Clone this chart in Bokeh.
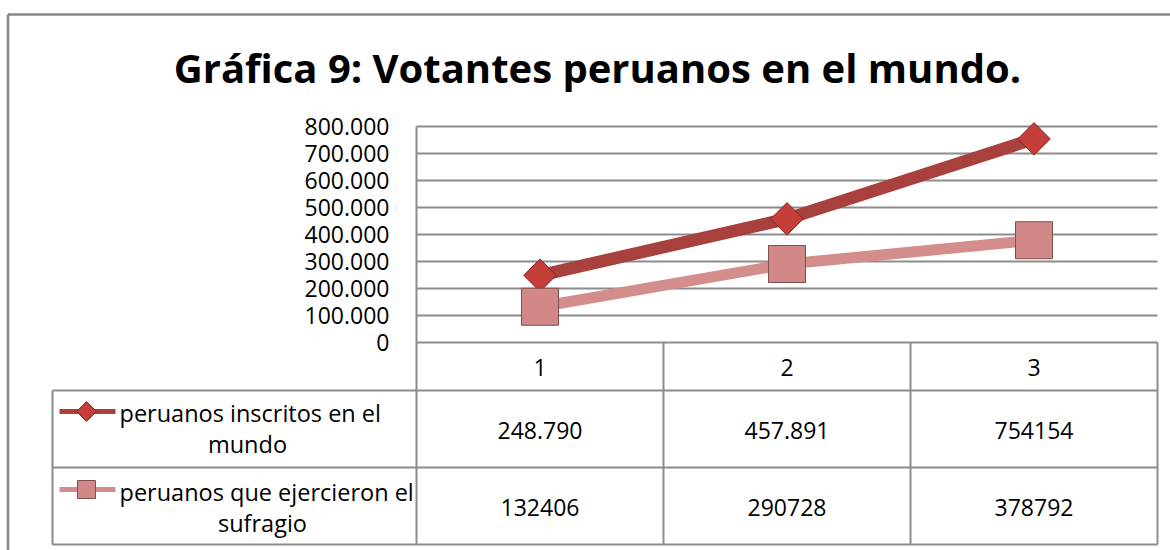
import numpy as np
from bokeh.plotting import figure
from bokeh.models import Range1d
from bokeh.core.properties import value
from bokeh.embed import file_html
from bokeh.resources import INLINE

# ---------------- data ----------------
title_text = "Gráfica 9: Votantes peruanos en el mundo."
categories = ["1", "2", "3"]
cat_pos = [1, 2, 3]
series_names = ["peruanos inscritos en el mundo", "peruanos que ejercieron el sufragio"]
inscritos = [248790, 457891, 754154]
ejercieron = [132406, 290728, 378792]
inscritos_labels = ["248.790", "457.891", "754154"]
ejercieron_labels = ["132406", "290728", "378792"]
y_ticks = [0, 100000, 200000, 300000, 400000, 500000, 600000, 700000, 800000]
y_tick_labels = ["0", "100.000", "200.000", "300.000", "400.000", "500.000",
                 "600.000", "700.000", "800.000"]

# ---------------- layout (page pixels) ----------------
W, H = 1170, 550
PAGE_L, PAGE_T = 0, 0
PL, PR, PT, PB = 416, 1157, 126, 342      # plot area
YMAX = 800000
ROW1, ROW2, ROW3 = 390, 467, 544          # table row lines
LEG_L = 52
col_w = (PR - PL) / len(categories)

FONT = value("Open Sans")
GRID = "#8c8c8c"
C1_LINE, C1_FILL, C1_EDGE = "#a8403d", "#c53e3a", "#7e2523"
C2_LINE, C2_FILL, C2_EDGE = "#d38e8c", "#d18886", "#7d4f4e"

p = figure(width=W, height=H,
           x_range=Range1d(PAGE_L, PAGE_L + W),
           y_range=Range1d(PAGE_T + H, PAGE_T),
           x_axis_type=None, y_axis_type=None,
           output_backend="svg", toolbar_location=None,
           min_border=0, outline_line_color=None,
           background_fill_color="white", border_fill_color="white")

# category / value scales
p.extra_x_ranges = {"cat": Range1d((PAGE_L - PL) / col_w + 0.5,
                                   (PAGE_L + W - PL) / col_w + 0.5)}
p.extra_y_ranges = {"val": Range1d((PB - (PAGE_T + H)) / (PB - PT) * YMAX,
                                   (PB - PAGE_T) / (PB - PT) * YMAX)}

# outer chart border
p.segment(x0=[7.5, 7.5], y0=[14, 14], x1=[1170, 7.5], y1=[14, 550],
          line_color="#878787", line_width=2.5)

# title
p.text(x=[597], y=[67], text=[title_text], text_font=FONT,
       text_font_style="bold", text_font_size="40px",
       text_align="center", text_baseline="middle", text_color="black")

# gridlines (value scale)
p.segment(x0=[PL] * len(y_ticks), x1=[PR] * len(y_ticks), y0=y_ticks, y1=y_ticks,
          y_range_name="val", line_color=GRID, line_width=2)
# y tick labels
p.text(x=[389] * len(y_ticks), y=y_ticks, text=y_tick_labels, y_range_name="val",
       text_font=FONT, text_font_size="23px", text_align="right",
       text_baseline="middle", text_color="black")

# table lines
p.segment(x0=[LEG_L, LEG_L, LEG_L], x1=[PR, PR, PR], y0=[ROW1, ROW2, ROW3],
          y1=[ROW1, ROW2, ROW3], line_color=GRID, line_width=2)
vx = [PL + col_w * i for i in range(1, len(categories) + 1)]
p.segment(x0=[PL] + vx + [LEG_L], x1=[PL] + vx + [LEG_L],
          y0=[PT] + [PB] * len(vx) + [ROW1], y1=[ROW3] * (len(vx) + 2),
          line_color=GRID, line_width=2)

# series lines + markers
p.line(x=cat_pos, y=inscritos, x_range_name="cat", y_range_name="val",
       line_color=C1_LINE, line_width=12.5)
p.scatter(x=cat_pos, y=inscritos, x_range_name="cat", y_range_name="val",
          marker="square", angle=np.pi / 4, size=23,
          fill_color=C1_FILL, line_color=C1_EDGE, line_width=1)
p.line(x=cat_pos, y=ejercieron, x_range_name="cat", y_range_name="val",
       line_color=C2_LINE, line_width=11)
p.scatter(x=cat_pos, y=ejercieron, x_range_name="cat", y_range_name="val",
          marker="square", size=37,
          fill_color=C2_FILL, line_color=C2_EDGE, line_width=1)

# table header & values
p.text(x=cat_pos, y=[(PB + ROW1) / 2 + 1] * 3, text=categories, x_range_name="cat",
       text_font=FONT, text_font_size="23px", text_align="center",
       text_baseline="middle", text_color="black")
p.text(x=cat_pos, y=[(ROW1 + ROW2) / 2 + 1.5] * 3, text=inscritos_labels,
       x_range_name="cat", text_font=FONT, text_font_size="23px",
       text_align="center", text_baseline="middle", text_color="black")
p.text(x=cat_pos, y=[(ROW2 + ROW3) / 2 + 1.5] * 3, text=ejercieron_labels,
       x_range_name="cat", text_font=FONT, text_font_size="23px",
       text_align="center", text_baseline="middle", text_color="black")

# legend keys inside table
p.segment(x0=[59, 59], x1=[115, 115], y0=[411, 489], y1=[411, 489],
          line_color=[C1_LINE, C2_LINE], line_width=5)
p.scatter(x=[86], y=[411], marker="square", angle=np.pi / 4, size=14,
          fill_color=C1_FILL, line_color=C1_EDGE, line_width=1)
p.scatter(x=[86], y=[489], marker="square", size=18,
          fill_color=C2_FILL, line_color=C2_EDGE, line_width=1)

# legend text (wrapped)
first_lines = [n.rsplit(" ", 1)[0] for n in series_names]
second_lines = [n.rsplit(" ", 1)[1] for n in series_names]
p.text(x=[119, 119], y=[412, 491], text=first_lines, text_font=FONT,
       text_font_size="23.5px", text_align="left", text_baseline="middle",
       text_color="black")
p.text(x=[247, 262], y=[443, 522], text=second_lines, text_font=FONT,
       text_font_size="23.5px", text_align="center", text_baseline="middle",
       text_color="black")

open("out.html", "w").write(file_html(p, INLINE))
